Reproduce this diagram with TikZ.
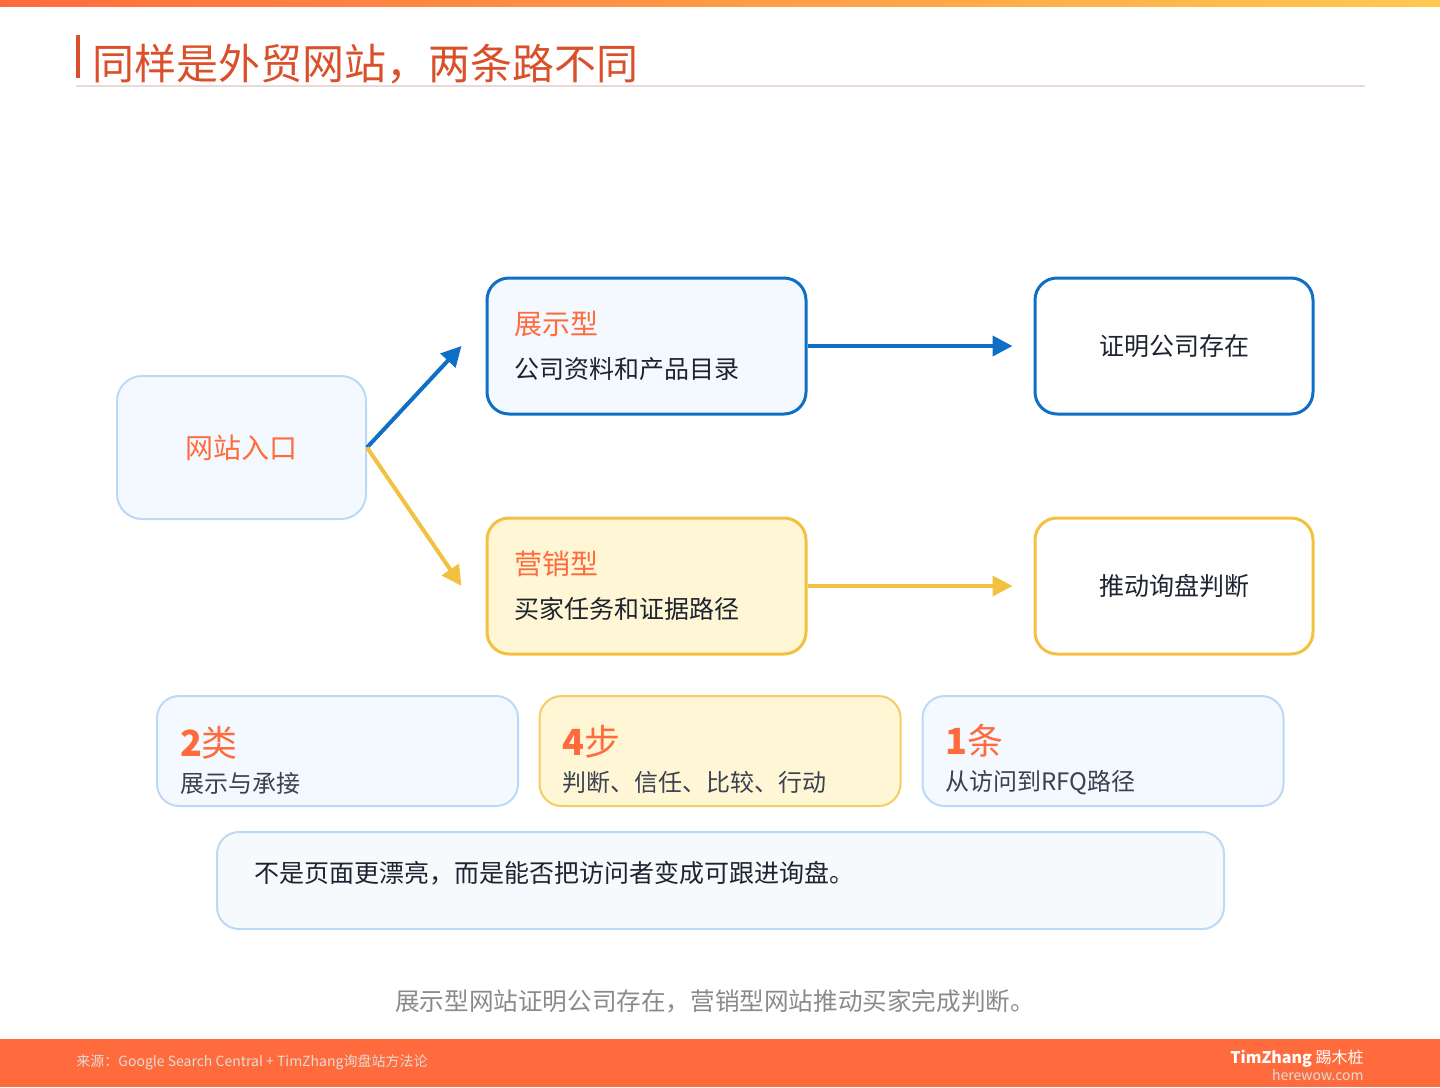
\documentclass[tikz,border=0pt]{standalone}
\usepackage{fontspec}
\setmainfont{Noto Sans CJK SC}
\usetikzlibrary{arrows.meta, positioning}

\definecolor{accent}{HTML}{FF6B3D}
\definecolor{barend}{HTML}{FFC94F}
\definecolor{titlered}{HTML}{D9502A}
\definecolor{ink}{HTML}{1E2330}
\definecolor{subink}{HTML}{3A4150}
\definecolor{lineblue}{HTML}{0F6FC6}
\definecolor{lineyellow}{HTML}{F3C140}
\definecolor{paleblue}{HTML}{BCD9F6}
\definecolor{skyfill}{HTML}{F4F9FF}
\definecolor{quotefill}{HTML}{F7FAFD}
\definecolor{creamfill}{HTML}{FFF6D6}
\definecolor{rulegray}{HTML}{EAD9D9}
\definecolor{capgray}{HTML}{8A8A8A}
\definecolor{footgray}{HTML}{E2DDD6}

\begin{document}
\begin{tikzpicture}[x=0.5pt, y=-0.5pt, every node/.style={font=\fontsize{12.5}{15}\selectfont, text=ink}]
    % Styles
    \tikzstyle{card} = [rectangle, rounded corners=11pt, draw=paleblue, fill=skyfill, line width=1pt, inner sep=0pt]
    \tikzstyle{typebox} = [card, draw=lineblue, line width=1.5pt, minimum width=159.5pt, minimum height=68pt, inner xsep=13.5pt, text width=132.5pt, align=left]
    \tikzstyle{goalbox} = [card, draw=lineblue, fill=white, line width=1.5pt, minimum width=139pt, minimum height=68pt, align=center]
    \tikzstyle{statbox} = [card, minimum width=180.5pt, minimum height=55pt, inner xsep=11.5pt, text width=157.5pt, align=left, font=\fontsize{12}{15}\selectfont]
    \tikzstyle{kind} = [font=\fontsize{14}{16}\selectfont, text=accent]
    \tikzstyle{flow} = [line width=2pt, -{Triangle[length=10pt, width=10pt]}]
    \newcommand{\kindtag}[1]{{\fontsize{14}{16}\selectfont\color{accent}#1}\\[7pt]}
    \newcommand{\bigcount}[2]{\rule{0pt}{24pt}{\fontsize{18}{20}\selectfont\color{accent}{\bfseries #1}#2}\\[3pt]}

    \useasboundingbox (0,0) rectangle (1440,1087);

    % Header
    \shade[left color=accent, right color=barend] (0,0) rectangle (1440,6);
    \fill[titlered] (76,35) rectangle (80,78);
    \node[anchor=west, inner sep=0pt, text=titlered, font=\fontsize{21}{24}\selectfont] (title) at (92,64) {同样是外贸网站，两条路不同};
    \draw[rulegray, line width=0.75pt] (76,86) -- (1365,86);

    % Paths
    \node[card, rounded corners=12.5pt, minimum width=124.5pt, minimum height=71.5pt, kind] (entry) at (241.5,447.5) {网站入口};
    \node[typebox] (show) at (646.5,346) {\kindtag{展示型}公司资料和产品目录};
    \node[goalbox, right=113pt of show] (proof) {证明公司存在};
    \node[typebox, draw=lineyellow, fill=creamfill, below=50.5pt of show] (market) {\kindtag{营销型}买家任务和证据路径};
    \node[goalbox, draw=lineyellow, right=113pt of market] (push) {推动询盘判断};

    % Arrows
    \draw[flow, lineblue] (entry.east) -- ([xshift=-12pt]show.west);
    \draw[flow, lineyellow] (entry.east) -- ([xshift=-12pt]market.west);
    \draw[flow, lineblue] (show.east) -- ([xshift=-10.5pt]proof.west);
    \draw[flow, lineyellow] (market.east) -- ([xshift=-10.5pt]push.west);

    % Numbers
    \node[statbox] (kinds) at (337.5,751) {\bigcount{2}{类}{\color{subink}展示与承接}};
    \node[statbox, draw=lineyellow!80, fill=creamfill] (steps) at (720,751) {\bigcount{4}{步}{\color{subink}判断、信任、比较、行动}};
    \node[statbox] (route) at (1103,751) {\bigcount{1}{条}{\color{subink}从访问到RFQ路径}};

    % Takeaway
    \node[card, fill=quotefill, minimum width=503.5pt, minimum height=48.5pt, inner xsep=18.5pt, text width=466.5pt, align=left] (quote) at (720.5,880.5) {不是页面更漂亮，而是能否把访问者变成可跟进询盘。\rule[-9pt]{0pt}{0pt}};
    \node[text=capgray, font=\fontsize{12.3}{15}\selectfont] (caption) at (715,1001) {展示型网站证明公司存在，营销型网站推动买家完成判断。};

    % Footer
    \fill[accent] (0,1039) rectangle (1440,1087);
    \node[anchor=west, inner sep=0pt, text=footgray, font=\fontsize{7}{8}\selectfont] (source) at (76,1062) {来源：Google Search Central + TimZhang询盘站方法论};
    \node[anchor=east, inner sep=0pt, text=white, font=\fontsize{8}{9}\selectfont] (brand) at (1364,1059) {\textbf{TimZhang} 踢木桩};
    \node[anchor=east, inner sep=0pt, text=footgray, font=\fontsize{7}{8}\selectfont] (site) at (1364,1075) {herewow.com};
\end{tikzpicture}
\end{document}
